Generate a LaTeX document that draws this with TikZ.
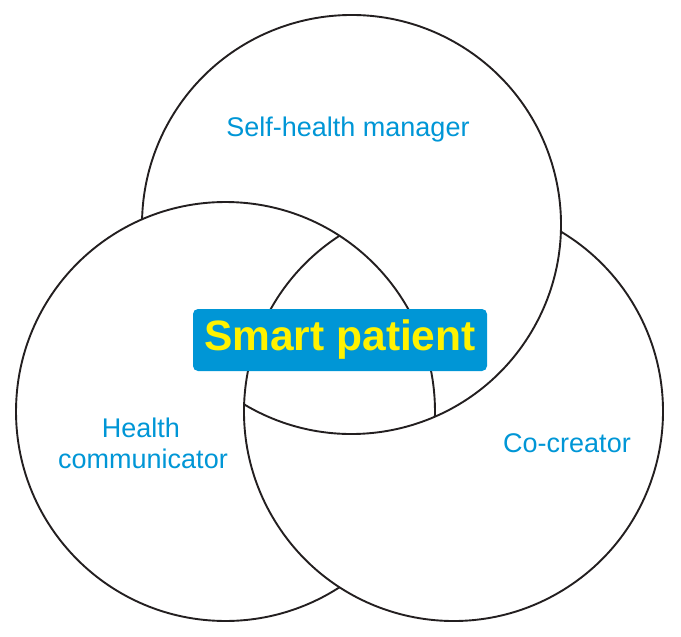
\documentclass[tikz,border=0pt]{standalone}
\usepackage{fontspec}
\setmainfont{Liberation Sans}
\definecolor{vblue}{RGB}{0,150,214}
\definecolor{vyellow}{RGB}{255,242,0}
\definecolor{vline}{RGB}{35,31,32}
\begin{document}
\begin{tikzpicture}[x=1pt,y=1pt,
  ring/.style={line width=1.9pt, draw=vline},
  lbl/.style={text=vblue, font=\fontsize{27}{32}\selectfont, inner sep=0pt, anchor=base},
  titlebox/.style={fill=vblue, text=vyellow, rounded corners=5pt, minimum width=294pt, minimum height=62pt, inner sep=0pt, font=\bfseries\fontsize{42.5}{50}\selectfont}]
\useasboundingbox (0,0) rectangle (681,-637);
\coordinate (T) at (351.5,-224.5);
\coordinate (L) at (225.5,-411.5);
\coordinate (R) at (453.5,-411.5);
% top circle (hidden where inside left only)
\draw[ring] (T) ++(239.17:209.5pt) arc[start angle=239.17, end angle=538.59, radius=209.5pt];
% left circle (hidden where inside right only)
\draw[ring] (L) ++(-1.41:209.5pt) arc[start angle=-1.41, end angle=302.96, radius=209.5pt];
% right circle (hidden where inside top only)
\draw[ring] (R) ++(122.96:209.5pt) arc[start angle=122.96, end angle=419.17, radius=209.5pt];
\node[titlebox] (sp) at (340,-340) {Smart patient};
\node[lbl] (sh) at (348,-136) {Self-health manager};
\node[lbl] (h1) at (141,-437) {Health};
\node[lbl] (h2) at (143,-468) {communicator};
\node[lbl] (cc) at (567,-452) {Co-creator};
\end{tikzpicture}
\end{document}
